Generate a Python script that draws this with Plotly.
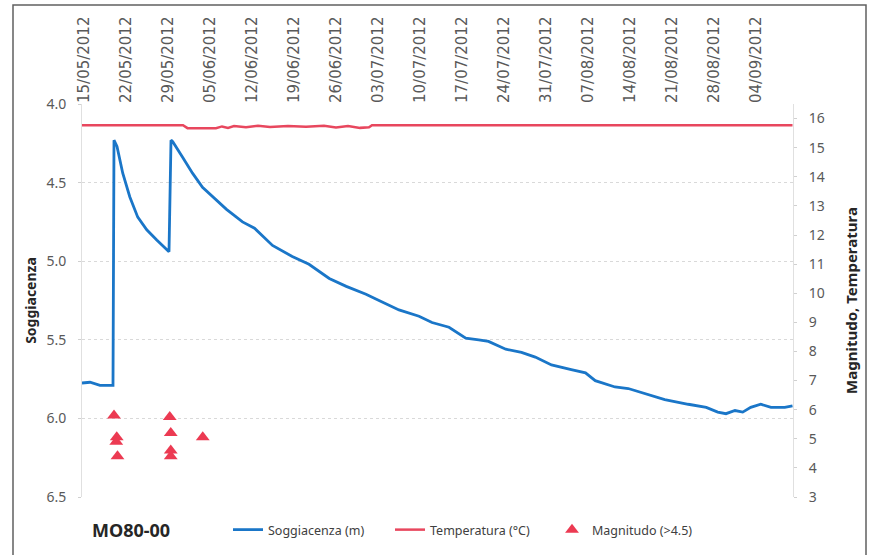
import plotly.graph_objects as go

# Soggiacenza (m) - groundwater depth
sogg_dates = [
    "2012-05-14 16:00", "2012-05-16 00:00", "2012-05-17 16:00", "2012-05-19 20:00",
    "2012-05-20 00:00", "2012-05-20 12:00", "2012-05-21 11:00", "2012-05-22 15:00",
    "2012-05-23 23:00", "2012-05-25 11:00", "2012-05-27 03:00", "2012-05-28 23:00",
    "2012-05-29 04:00", "2012-05-29 12:00", "2012-05-29 19:00", "2012-05-31 11:00",
    "2012-06-02 02:00", "2012-06-03 18:00", "2012-06-04 22:00", "2012-06-07 18:00",
    "2012-06-10 10:00", "2012-06-12 10:00", "2012-06-15 10:00", "2012-06-18 17:00",
    "2012-06-21 12:00", "2012-06-24 21:00", "2012-06-27 17:00", "2012-07-01 00:00",
    "2012-07-03 04:00", "2012-07-06 12:00", "2012-07-09 20:00", "2012-07-12 00:00",
    "2012-07-14 20:00", "2012-07-17 15:00", "2012-07-19 19:00", "2012-07-21 10:00",
    "2012-07-24 07:00", "2012-07-26 22:00", "2012-07-29 05:00", "2012-07-31 22:00",
    "2012-08-04 05:00", "2012-08-06 14:00", "2012-08-08 05:00", "2012-08-11 12:00",
    "2012-08-13 17:00", "2012-08-16 12:00", "2012-08-19 19:00", "2012-08-23 17:00",
    "2012-08-26 17:00", "2012-08-28 15:00", "2012-08-30 00:00", "2012-08-31 12:00",
    "2012-09-01 19:00", "2012-09-03 03:00", "2012-09-04 19:00", "2012-09-06 12:00",
    "2012-09-08 19:00", "2012-09-10 02:00",
]
sogg_values = [
    5.775, 5.77, 5.79, 5.79,
    4.23, 4.27, 4.44, 4.59,
    4.72, 4.80, 4.865, 4.935,
    4.94, 4.23, 4.24, 4.34,
    4.44, 4.53, 4.57, 4.67,
    4.75, 4.79, 4.90, 4.97,
    5.02, 5.11, 5.16, 5.21,
    5.25, 5.31, 5.35, 5.39,
    5.42, 5.49, 5.50, 5.51,
    5.56, 5.58, 5.61, 5.66,
    5.69, 5.71, 5.76, 5.80,
    5.81, 5.84, 5.88, 5.91,
    5.93, 5.96, 5.97, 5.95,
    5.96, 5.93, 5.91, 5.93,
    5.93, 5.92,
]

# Temperatura (°C)
temp_dates = [
    "2012-05-14 16:00", "2012-05-31 12:00", "2012-06-01 06:00", "2012-06-06 00:00",
    "2012-06-07 00:00", "2012-06-08 00:00", "2012-06-09 00:00", "2012-06-11 00:00",
    "2012-06-13 00:00", "2012-06-15 00:00", "2012-06-18 00:00", "2012-06-21 00:00",
    "2012-06-24 00:00", "2012-06-26 00:00", "2012-06-28 00:00", "2012-06-30 00:00",
    "2012-07-01 12:00", "2012-07-02 00:00", "2012-09-10 02:00",
]
temp_values = [
    15.77, 15.77, 15.67, 15.67,
    15.73, 15.68, 15.74, 15.70,
    15.75, 15.71, 15.74, 15.72,
    15.75, 15.69, 15.74, 15.68,
    15.70, 15.77, 15.77,
]

# Magnitudo (>4.5) - seismic events
mag_dates = [
    "2012-05-20 00:00", "2012-05-20 11:00", "2012-05-20 09:00", "2012-05-20 14:00",
    "2012-05-29 07:00", "2012-05-29 11:00", "2012-05-29 11:00", "2012-05-29 11:00",
    "2012-06-03 19:00",
]
mag_values = [5.8, 5.05, 4.9, 4.4, 5.75, 5.2, 4.6, 4.4, 5.05]

tick_dates = [
    "2012-05-15", "2012-05-22", "2012-05-29", "2012-06-05", "2012-06-12", "2012-06-19",
    "2012-06-26", "2012-07-03", "2012-07-10", "2012-07-17", "2012-07-24", "2012-07-31",
    "2012-08-07", "2012-08-14", "2012-08-21", "2012-08-28", "2012-09-04",
]
tick_text = [
    "15/05/2012", "22/05/2012", "29/05/2012", "05/06/2012", "12/06/2012", "19/06/2012",
    "26/06/2012", "03/07/2012", "10/07/2012", "17/07/2012", "24/07/2012", "31/07/2012",
    "07/08/2012", "14/08/2012", "21/08/2012", "28/08/2012", "04/09/2012",
]

FONT = "Noto Sans"
GRAY = "#595959"

fig = go.Figure()
fig.add_trace(go.Scatter(x=sogg_dates, y=sogg_values, mode="lines", name="Soggiacenza (m)",
                         line=dict(color="#1a76c8", width=2.8)))
fig.add_trace(go.Scatter(x=temp_dates, y=temp_values, mode="lines", name="Temperatura (°C)",
                         line=dict(color="#e8475e", width=2.5), yaxis="y2"))
fig.add_trace(go.Scatter(x=mag_dates, y=mag_values, mode="markers", name="Magnitudo (>4.5)",
                         marker=dict(symbol="triangle-up", size=12, color="#ec3a52"), yaxis="y2"))

fig.update_layout(
    width=871, height=555,
    margin=dict(l=82, r=78, t=104, b=58, autoexpand=False),
    paper_bgcolor="white", plot_bgcolor="white",
    font=dict(family=FONT, size=13, color=GRAY),
    showlegend=True,
    legend=dict(orientation="h", xref="container", yref="container",
                x=228 / 871, xanchor="left", y=(555 - 530) / 555, yanchor="middle",
                font=dict(size=12.5, color="#404040"), entrywidth=117, itemwidth=30,
                bgcolor="rgba(0,0,0,0)"),
    xaxis=dict(type="date", side="top", range=["2012-05-14 16:00", "2012-09-10 04:00"],
               tickvals=tick_dates, ticktext=tick_text, tickangle=-90,
               tickfont=dict(size=15, color=GRAY, family="DejaVu Sans"), showgrid=False, ticks="",
               showline=False, zeroline=False, automargin=False),
    yaxis=dict(range=[6.5, 4.0], tickvals=[4.0, 4.5, 5.0, 5.5, 6.0, 6.5], tickformat=".1f",
               tickfont=dict(size=14, color=GRAY), showgrid=True, gridcolor="#d9d9d9",
               griddash="dot", gridwidth=1, showline=True, linecolor="#e0e0e0", linewidth=1,
               ticks="outside", ticklen=3, tickcolor="#d0d0d0", ticklabelstandoff=9,
               zeroline=False, automargin=False,
               title=dict(text="<b>Soggiacenza</b>", font=dict(size=14, color="#262626"), standoff=6)),
    yaxis2=dict(overlaying="y", side="right", range=[3, 16.5], tickvals=list(range(3, 17)),
                tickfont=dict(size=14, color=GRAY), showgrid=False, showline=True,
                linecolor="#e0e0e0", linewidth=1, ticks="outside", ticklen=3, tickcolor="#d0d0d0",
                ticklabelstandoff=9, zeroline=False, automargin=False,
                title=dict(text="<b>Magnitudo, Temperatura</b>", font=dict(size=15, color="#262626"),
                           standoff=22)),
)

# chart frame
fig.add_shape(type="rect", xref="paper", yref="paper",
              x0=(13 - 82) / 711, x1=(866 - 82) / 711, y0=(497 - 557) / 393, y1=(497 - 5) / 393,
              line=dict(color="#606060", width=1.5), layer="below")

fig.add_annotation(text="<b>MO80-00</b>", xref="paper", yref="paper",
                   x=(90 - 82) / 711, y=(497 - 530) / 393, xanchor="left", yanchor="middle",
                   showarrow=False, font=dict(size=18, color="#262626", family=FONT))

# drop the default 8px body margin so the figure sits at the page origin
fig.write_html("out.html", config={"displayModeBar": False},
               post_script="document.body.style.margin='0';")
